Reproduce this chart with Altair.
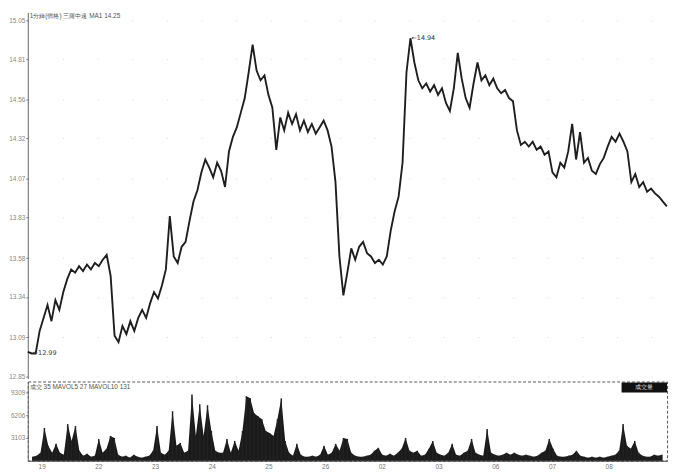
import altair as alt
import pandas as pd

# ---- data ----
days = ["19", "22", "23", "24", "25", "26", "02", "03", "06", "07", "08"]
samples_per_day = 14.6

price = [
    13.00, 12.99, 12.99, 13.13, 13.21, 13.29, 13.19, 13.32, 13.26, 13.37,
    13.45, 13.51, 13.49, 13.53, 13.50, 13.54, 13.51, 13.55, 13.53, 13.57,
    13.60, 13.47, 13.10, 13.06, 13.16, 13.11, 13.19, 13.13, 13.21, 13.26,
    13.21, 13.30, 13.37, 13.33, 13.41, 13.51, 13.84, 13.59, 13.55, 13.65,
    13.68, 13.81, 13.93, 14.00, 14.11, 14.19, 14.14, 14.08, 14.17, 14.12,
    14.02, 14.24, 14.33, 14.39, 14.48, 14.57, 14.73, 14.90, 14.74, 14.68,
    14.71, 14.59, 14.51, 14.25, 14.45, 14.37, 14.48, 14.41, 14.47, 14.37,
    14.43, 14.36, 14.41, 14.35, 14.39, 14.43, 14.37, 14.27, 14.05, 13.59,
    13.35, 13.49, 13.64, 13.57, 13.65, 13.68, 13.61, 13.59, 13.55, 13.57,
    13.54, 13.59, 13.75, 13.87, 13.96, 14.17, 14.73, 14.94, 14.79, 14.68,
    14.63, 14.66, 14.61, 14.65, 14.59, 14.63, 14.54, 14.49, 14.63, 14.85,
    14.69, 14.57, 14.51, 14.66, 14.79, 14.68, 14.71, 14.65, 14.69, 14.63,
    14.60, 14.62, 14.57, 14.55, 14.37, 14.28, 14.30, 14.27, 14.30, 14.25,
    14.27, 14.22, 14.24, 14.11, 14.08, 14.17, 14.14, 14.24, 14.41, 14.19,
    14.36, 14.17, 14.20, 14.12, 14.10, 14.16, 14.20, 14.27, 14.33, 14.30,
    14.35, 14.30, 14.24, 14.05, 14.10, 14.02, 14.05, 13.99, 14.01, 13.98,
    13.96, 13.93, 13.90,
]

volume = [
    540, 675, 1080, 4455, 2025, 1080, 2295, 1080, 810, 4995,
    2700, 4725, 1350, 675, 945, 540, 675, 2970, 1080, 1620,
    3375, 3105, 810, 540, 675, 405, 810, 540, 405, 540,
    675, 1350, 4725, 1080, 810, 1350, 6750, 2025, 2430, 1080,
    1350, 9045, 3375, 7695, 3375, 7560, 4050, 1350, 1080, 1080,
    2970, 1080, 2700, 1350, 4050, 8775, 8505, 6480, 6075, 5670,
    4050, 3780, 3375, 5670, 8505, 2700, 1080, 675, 2295, 810,
    540, 540, 675, 540, 810, 2025, 810, 1080, 2295, 1350,
    3105, 2970, 1080, 675, 540, 540, 675, 810, 1350, 1755,
    810, 675, 945, 675, 1080, 1620, 3105, 1350, 1080, 1350,
    675, 810, 1620, 2700, 1080, 810, 675, 1080, 2295, 810,
    675, 1080, 1350, 2970, 1080, 810, 675, 4320, 1080, 810,
    675, 810, 1080, 810, 1080, 810, 675, 810, 675, 540,
    675, 1080, 1350, 2970, 1620, 675, 540, 540, 675, 810,
    1350, 675, 540, 405, 540, 405, 540, 405, 540, 675,
    810, 1350, 4995, 2025, 1620, 2700, 1080, 675, 540, 540,
    810, 675, 810,
]

price_ticks = [15.05, 14.81, 14.56, 14.32, 14.07, 13.83, 13.58, 13.34, 13.09, 12.85]
vol_ticks = [3103, 6206, 9309]
price_title = ["1分鐘(價格)  三羅中遠  MA1  14.25"]
vol_title = ["成交 35  MAVOL5 27  MAVOL10 131"]
vol_badge = ["成交量"]

# ---- tables ----
n = len(price)
df = pd.DataFrame({
    "t": [i / samples_per_day for i in range(n)],
    "price": price,
    "vol": volume,
})
imin = int(df["price"].idxmin())
imax = int(df["price"].idxmax())
ann = pd.DataFrame({
    "t": [df.loc[imin, "t"], df.loc[imax, "t"]],
    "price": [df.loc[imin, "price"], df.loc[imax, "price"]],
    "label": ["\u2190" + f"{df.loc[imin, 'price']:.2f}", "\u2190" + f"{df.loc[imax, 'price']:.2f}"],
    "dy": [4, 0],
})

FONT = "Liberation Sans"
W = 646
x_scale = alt.Scale(domain=[0, 11.1], nice=False, zero=False)
vol_scale = alt.Scale(domain=[0, 10800], nice=False)

# ---- price panel ----
base = alt.Chart(df)
price_line = base.mark_line(color="#1e1e1e", strokeWidth=1.9).encode(
    x=alt.X("t:Q", scale=x_scale, axis=None),
    y=alt.Y(
        "price:Q",
        scale=alt.Scale(domain=[12.835, 15.10], nice=False, zero=False),
        axis=alt.Axis(
            values=price_ticks, format=".2f", title=None, labelFontSize=6.5,
            labelColor="#888", labelFont=FONT, tickSize=2, tickColor="#777",
            domainColor="#666", grid=True, gridColor="#d8d8d8", gridDash=[1, 34],
            labelPadding=1, minExtent=18, maxExtent=18,
        ),
    ),
)
ann_text = alt.Chart(ann).mark_text(
    align="left", baseline="middle", fontSize=6.5, color="#333", font="DejaVu Sans", dx=1
).encode(
    x=alt.X("t:Q", scale=x_scale),
    y=alt.Y("price:Q"),
    yOffset=alt.YOffset("dy:Q", scale=None),
    text="label:N",
)
ptitle = alt.Chart(pd.DataFrame({"label": price_title})).mark_text(
    align="left", baseline="top", fontSize=6.5, color="#555", font=FONT
).encode(x=alt.value(2), y=alt.value(1), text="label:N")

price_chart = alt.layer(price_line, ann_text, ptitle).properties(
    width=W, height=370, view=alt.ViewBackground(stroke=None)
)

# ---- volume panel ----
label_expr = "[" + ",".join("'" + d + "'" for d in days) + "][datum.value]"
vol_x = alt.X(
    "t:Q", scale=x_scale,
    axis=alt.Axis(
        values=list(range(len(days))), labelExpr=label_expr, title=None,
        labelFontSize=6.5, labelColor="#777", labelFont=FONT, ticks=False,
        domainColor="#444", labelAlign="center", labelOffset=9, labelPadding=3,
        grid=False,
    ),
)
vol_y = alt.Y(
    "vol:Q",
    scale=vol_scale,
    axis=alt.Axis(
        values=vol_ticks, format="d", title=None, labelFontSize=6.5,
        labelColor="#888", labelFont=FONT, tickSize=2, tickColor="#777",
        domainColor="#666", grid=False, labelPadding=1, labelOverlap=False,
        minExtent=18, maxExtent=18,
    ),
)
vol_area = base.mark_area(color="#1a1a1a", opacity=1, interpolate="linear").encode(x=vol_x, y=vol_y)
vol_spikes = base.mark_bar(size=1.5, color="#222").encode(x=vol_x, y=vol_y)
vtitle = alt.Chart(pd.DataFrame({"label": vol_title})).mark_text(
    align="left", baseline="top", fontSize=6.5, color="#555", font=FONT
).encode(x=alt.value(2), y=alt.value(3), text="label:N")
badge_box = alt.Chart(pd.DataFrame({"label": vol_badge})).mark_rect(color="#111").encode(
    x=alt.value(600), x2=alt.value(W), y=alt.value(1), y2=alt.value(11)
)
badge_text = alt.Chart(pd.DataFrame({"label": vol_badge})).mark_text(
    align="center", baseline="middle", fontSize=6, color="#ddd", font=FONT
).encode(x=alt.value(623), y=alt.value(6), text="label:N")

vol_chart = alt.layer(vol_area, vol_spikes, vtitle, badge_box, badge_text).properties(
    width=W, height=80,
    view=alt.ViewBackground(stroke="#555", strokeDash=[3, 2], strokeWidth=1),
)

chart = alt.vconcat(price_chart, vol_chart, spacing=0).properties(
    padding={"left": 0, "top": 2, "right": 4, "bottom": 0},
    background="white",
)

chart.save("out.html", embed_options={"renderer": "svg", "actions": False})
